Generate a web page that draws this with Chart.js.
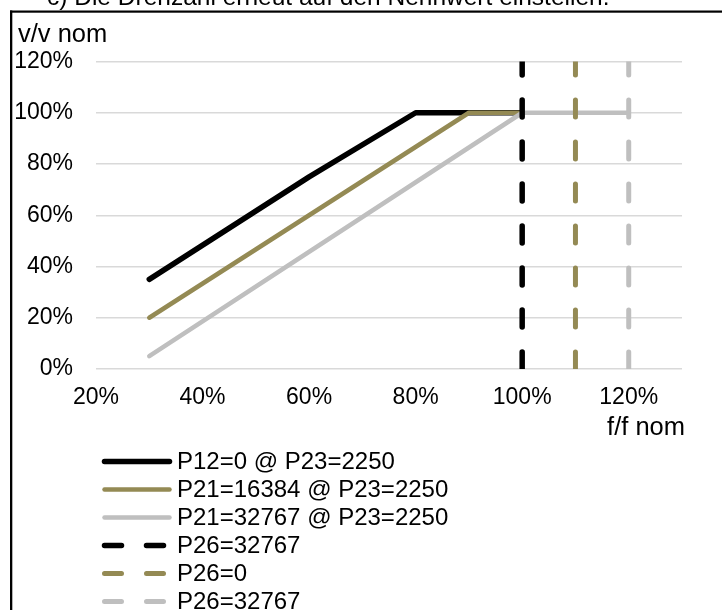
<!DOCTYPE html>
<html>
<head>
<meta charset="utf-8">
<script src="https://cdn.jsdelivr.net/npm/chart.js@4.4.1/dist/chart.umd.min.js"></script>
<style>
  html, body { margin: 0; padding: 0; background: #ffffff; }
  #wrap { position: absolute; left: 0; top: 0; width: 722px; height: 610px; }
</style>
</head>
<body>
<div id="wrap"><canvas id="c" width="722" height="610"></canvas></div>
<script>
// ---- data ----
const xTicks = [20, 40, 60, 80, 100, 120];
const yTicks = [0, 20, 40, 60, 80, 100, 120];
const seriesNames = [
  'P12=0 @ P23=2250',
  'P21=16384 @ P23=2250',
  'P21=32767 @ P23=2250',
  'P26=32767',
  'P26=0',
  'P26=32767'
];
const p12X = [30, 60, 80, 100];
const p12Y = [35, 75, 100, 100];
const p21aX = [30, 90, 100];
const p21aY = [20, 100, 100];
const p21bX = [30, 100, 120];
const p21bY = [5, 100, 100];
const limitX = [100, 110, 120];
const limitY = [0, 120];
const titleText = 'c) Die Drehzahl erneut auf den Nennwert einstellen.';
const yTitle = 'v/v nom';
const xTitle = 'f/f nom';

const BLACK = '#000000', OLIVE = '#948A54', GRAY = '#BFBFBF';
const FONT = '"Liberation Sans", Arial, sans-serif';

function pts(xs, ys) { return xs.map((x, i) => ({ x: x, y: ys[i] })); }

const solidColors = [BLACK, OLIVE, GRAY];
const solidWidths = [5.5, 4.5, 4.5];
const solidData = [pts(p12X, p12Y), pts(p21aX, p21aY), pts(p21bX, p21bY)];
const dashWidths = [5.5, 5, 5];

const datasets = [];
for (let i = 0; i < 3; i++) {
  datasets.push({
    label: seriesNames[i],
    data: solidData[i],
    borderColor: solidColors[i],
    backgroundColor: solidColors[i],
    borderWidth: solidWidths[i],
    borderCapStyle: 'round',
    borderJoinStyle: 'round',
    pointRadius: 0,
    fill: false,
    tension: 0,
    order: 6 - i
  });
}
for (let i = 0; i < 3; i++) {
  datasets.push({
    label: seriesNames[3 + i],
    data: limitY.map(y => ({ x: limitX[i], y: y })),
    borderColor: solidColors[i],
    backgroundColor: solidColors[i],
    borderWidth: dashWidths[i],
    borderDash: [17, 25],
    borderCapStyle: 'round',
    pointRadius: 0,
    fill: false,
    order: 3 - i
  });
}

const extras = {
  id: 'extras',
  afterDraw(chart) {
    const ctx = chart.ctx;
    ctx.save();
    // frame
    ctx.fillStyle = '#000';
    ctx.fillRect(10, 10.5, 712, 2.2);
    ctx.fillRect(10, 10.5, 2.3, 600);
    // cut-off heading
    ctx.font = '24.5px ' + FONT;
    ctx.textBaseline = 'alphabetic';
    ctx.textAlign = 'left';
    ctx.fillText(titleText, 47, 4.5);
    // axis titles
    ctx.font = '25.5px ' + FONT;
    ctx.fillText(yTitle, 18, 42);
    ctx.textAlign = 'right';
    ctx.fillText(xTitle, 685, 435);
    // legend
    ctx.textAlign = 'left';
    ctx.textBaseline = 'middle';
    ctx.font = '24px ' + FONT;
    chart.data.datasets.forEach((ds, i) => {
      const y = 461.5 + i * 28;
      ctx.beginPath();
      ctx.strokeStyle = ds.borderColor;
      ctx.lineWidth = ds.borderWidth;
      ctx.lineCap = 'round';
      ctx.setLineDash(ds.borderDash || []);
      ctx.moveTo(104.5, y);
      ctx.lineTo(169.5, y);
      ctx.stroke();
      ctx.setLineDash([]);
      ctx.fillStyle = '#000';
      ctx.fillText(ds.label, 177, y + 1);
    });
    ctx.restore();
  }
};

new Chart(document.getElementById('c'), {
  type: 'line',
  data: { datasets: datasets },
  options: {
    responsive: false,
    animation: false,
    devicePixelRatio: 1,
    layout: { padding: { left: 0, right: 40, top: 61.5, bottom: 181 } },
    plugins: { legend: { display: false }, tooltip: { enabled: false }, title: { display: false } },
    scales: {
      x: {
        type: 'linear', position: 'bottom', min: 20, max: 130,
        grid: { display: false, drawTicks: false },
        border: { display: false },
        ticks: {
          color: '#000', padding: 15, maxRotation: 0,
          font: { family: FONT, size: 23 },
          callback: v => v + '%'
        },
        afterBuildTicks: s => { s.ticks = xTicks.map(v => ({ value: v })); },
        afterFit: s => { s.height = 60; }
      },
      y: {
        type: 'linear', min: 0, max: 120,
        grid: { color: '#D9D9D9', lineWidth: 1.5, drawTicks: false },
        border: { display: false },
        ticks: {
          color: '#000', padding: 23,
          font: { family: FONT, size: 23 },
          callback: v => v + '%'
        },
        afterBuildTicks: s => { s.ticks = yTicks.map(v => ({ value: v })); },
        afterFit: s => { s.width = 96; }
      }
    }
  },
  plugins: [extras]
});
</script>
</body>
</html>
